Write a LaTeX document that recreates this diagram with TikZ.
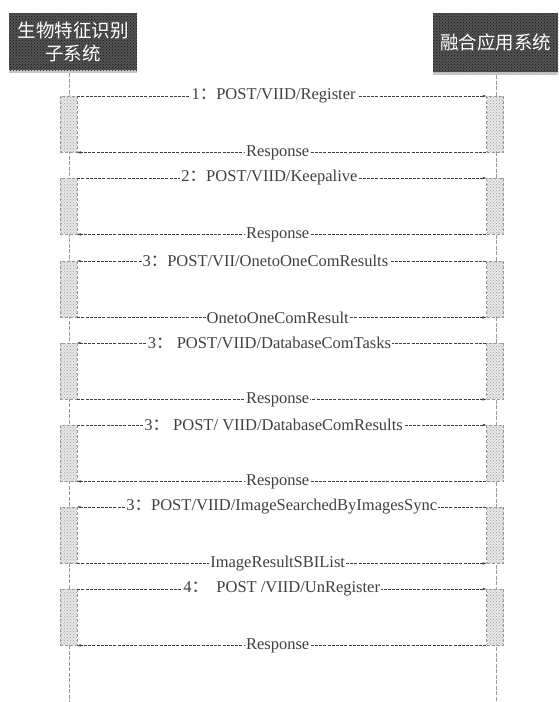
\documentclass[tikz,border=0pt]{standalone}
\usepackage{fontspec}
\setmainfont{Liberation Serif}
\newfontfamily\cjk{Noto Sans CJK SC}
\usetikzlibrary{arrows.meta,patterns}

\tikzset{
  head/.style={fill=black!68, text=white, font=\cjk\fontsize{18.5}{23}\selectfont,
    align=center, inner sep=0pt, postaction={pattern=crosshatch dots, pattern color=black!90}},
  act/.style={draw=gray!80, densely dashed, fill=gray!18, minimum width=17pt,
    minimum height=56pt, inner sep=0pt,
    postaction={pattern=crosshatch dots, pattern color=gray!75}},
  life/.style={gray!80, dash pattern=on 4pt off 1.5pt, thin},
  msg/.style={black!75, dash pattern=on 3pt off 1.2pt, thin},
  lbl/.style={fill=white, inner xsep=1pt, inner ysep=0pt,
    font=\fontsize{16.5}{18}\selectfont},
  toR/.style={-{Stealth[length=4pt,width=2.5pt]}},
  toL/.style={{Stealth[length=4pt,width=2.5pt]}-},
}
\newcommand{\cc}{{\cjk ：}}

\begin{document}
\begin{tikzpicture}[x=1pt,y=-1pt]
  \useasboundingbox (0,0) rectangle (558,702);

  % the two systems
  \fill[gray!45] (9,67) rectangle (137,73);
  \fill[gray!45] (433,69) rectangle (558,75);
  \node[head, minimum width=128pt, minimum height=57pt] (bio) at (73,41.5)
    {生物特征识别\\子系统};
  \node[head, minimum width=125pt, minimum height=59pt] (fus) at (495.5,42.5)
    {融合应用系统};

  % lifelines
  \coordinate (bioend) at (69,702);
  \coordinate (fusend) at (496,702);
  \draw[life] (69,73) -- (bioend);
  \draw[life] (496,75) -- (fusend);

  % activation boxes
  \foreach \i/\y in {1/96,2/178,3/261,4/343,5/425,6/507,7/589}{
    \node[act, anchor=north] (L\i) at (68.5,\y) {};
    \node[act, anchor=north] (R\i) at (495,\y) {};
  }

  % messages
  \draw[msg,toR] (L1.north east) -- node[lbl, pos=0.48] {1\cc POST/VIID/Register} (R1.north west);
  \draw[msg,toL] (L1.south east) -- node[lbl, pos=0.49] {Response} (R1.south west);

  \draw[msg,toR] (L2.north east) -- node[lbl, pos=0.47] {2\cc POST/VIID/Keepalive} (R2.north west);
  \draw[msg,toL] (L2.south east) -- node[lbl, pos=0.49] {Response} (R2.south west);

  \draw[msg,toL] (L3.north east) -- node[lbl, pos=0.46] {3\cc POST/VII/OnetoOneComResults} (R3.north west);
  \draw[msg,toR] (L3.south east) -- node[lbl, pos=0.49] {OnetoOneComResult} (R3.south west);

  \draw[msg,toL] (L4.north east) -- node[lbl, pos=0.47] {3\cc\ POST/VIID/DatabaseComTasks} (R4.north west);
  \draw[msg,toR] (L4.south east) -- node[lbl, pos=0.49] {Response} (R4.south west);

  \draw[msg,toR] (L5.north east) -- node[lbl, pos=0.48] {3\cc\ POST/ VIID/DatabaseComResults} (R5.north west);
  \draw[msg,toL] (L5.south east) -- node[lbl, pos=0.49] {Response} (R5.south west);

  \draw[msg,toL] (L6.north east) -- node[lbl, pos=0.5] {3\cc POST/VIID/ImageSearchedByImagesSync} (R6.north west);
  \draw[msg,toR] (L6.south east) -- node[lbl, pos=0.49] {ImageResultSBIList} (R6.south west);

  \draw[msg,toR] (L7.north east) -- node[lbl, pos=0.5] {4\cc\ \ POST /VIID/UnRegister} (R7.north west);
  \draw[msg,toL] (L7.south east) -- node[lbl, pos=0.49] {Response} (R7.south west);
\end{tikzpicture}
\end{document}
